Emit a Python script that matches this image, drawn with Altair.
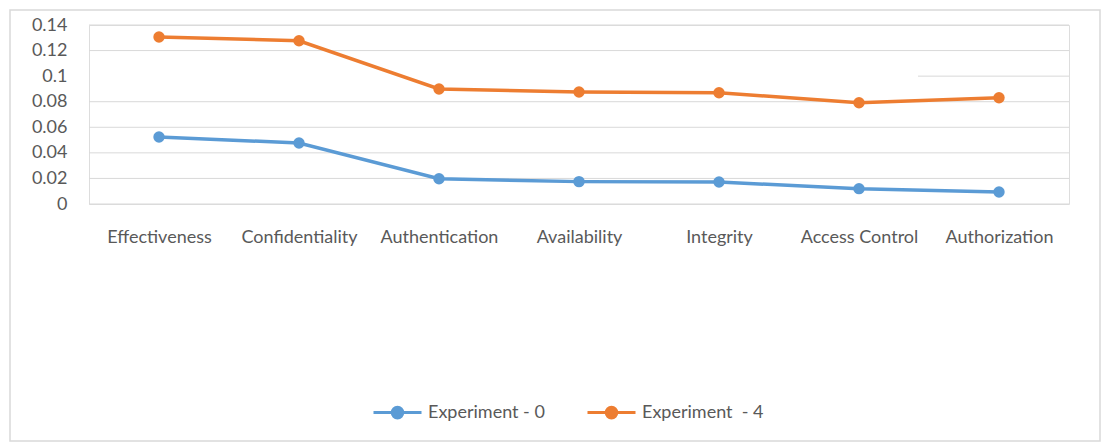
import altair as alt
import pandas as pd

categories = ["Effectiveness", "Confidentiality", "Authentication", "Availability",
              "Integrity", "Access Control", "Authorization"]
exp0 = [0.0524, 0.0477, 0.0198, 0.0175, 0.0172, 0.0120, 0.0094]
exp4 = [0.1306, 0.1277, 0.0900, 0.0876, 0.0870, 0.0792, 0.0831]
series_names = ["Experiment - 0", "Experiment\u00a0 - 4"]
series_colors = ["#5b9bd5", "#ed7d31"]
y_ticks = [0, 0.02, 0.04, 0.06, 0.08, 0.1, 0.12, 0.14]
full_grid = [0, 0.02, 0.04, 0.06, 0.08, 0.12, 0.14]
short_grid = [0.1]

rows = []
for name, vals in zip(series_names, [exp0, exp4]):
    for c, v in zip(categories, vals):
        rows.append({"category": c, "value": v, "series": name})
df = pd.DataFrame(rows)

W, H = 980, 179
FONT = "Lato"
TXT = "#595959"
FS = 18

y_scale = alt.Scale(domain=[0, 0.14], nice=False, zero=True)
y_axis = alt.Axis(title=None, values=y_ticks, format="~g", domain=False,
                  ticks=False, grid=False, labelPadding=22,
                  labelFontSize=FS, labelColor=TXT, labelFont=FONT)
x_enc = alt.X("category:N", sort=categories,
              scale=alt.Scale(type="point", padding=0.5),
              axis=alt.Axis(title=None, labelAngle=0, domain=False, ticks=False,
                            labelPadding=24, labelFontSize=FS, labelColor=TXT,
                            labelFont=FONT, grid=False))
y_enc = alt.Y("value:Q", scale=y_scale, axis=y_axis)

# outer frame of the chart
frame = alt.Chart(pd.DataFrame({"k": [0]})).mark_rect(
    fill=None, stroke="#d9d9d9", strokeWidth=1.5
).encode(x=alt.value(-79), x2=alt.value(1011), y=alt.value(-15), y2=alt.value(416))

grid = alt.Chart(pd.DataFrame({"value": full_grid})).mark_rule(
    color="#d9d9d9", strokeWidth=1
).encode(y=alt.Y("value:Q", scale=y_scale, axis=y_axis), x=alt.value(0), x2=alt.value(W))

grid_short = alt.Chart(pd.DataFrame({"value": short_grid})).mark_rule(
    color="#d9d9d9", strokeWidth=1
).encode(y=alt.Y("value:Q", scale=y_scale, axis=y_axis), x=alt.value(829), x2=alt.value(W))

color = alt.Color("series:N",
                  scale=alt.Scale(domain=series_names, range=series_colors),
                  legend=alt.Legend(
                      title=None, orient="none", direction="horizontal",
                      legendX=283, legendY=362,
                      symbolType="M-1,0L1,0M0.22,0A0.22,0.22 0 1,1 -0.22,0A0.22,0.22 0 1,1 0.22,0Z",
                      symbolSize=2304, symbolStrokeWidth=3,
                      labelFontSize=FS, labelColor=TXT, labelFont=FONT,
                      labelOffset=5, columnPadding=36))

lines = alt.Chart(df).mark_line(strokeWidth=3.5).encode(
    x=x_enc, y=y_enc, color=color)
points = alt.Chart(df).mark_point(filled=True, size=130, opacity=1).encode(
    x=x_enc, y=y_enc, color=alt.Color("series:N",
                                      scale=alt.Scale(domain=series_names, range=series_colors),
                                      legend=None))

chart = alt.layer(frame, grid, grid_short, lines, points).properties(
    width=W, height=H,
    autosize=alt.AutoSizeParams(type="none"),
    padding={"left": 89, "top": 25, "right": 41, "bottom": 239},
).configure_view(strokeWidth=0).configure(background="white")

chart.save("out.html", embed_options={"renderer": "svg", "actions": False})
